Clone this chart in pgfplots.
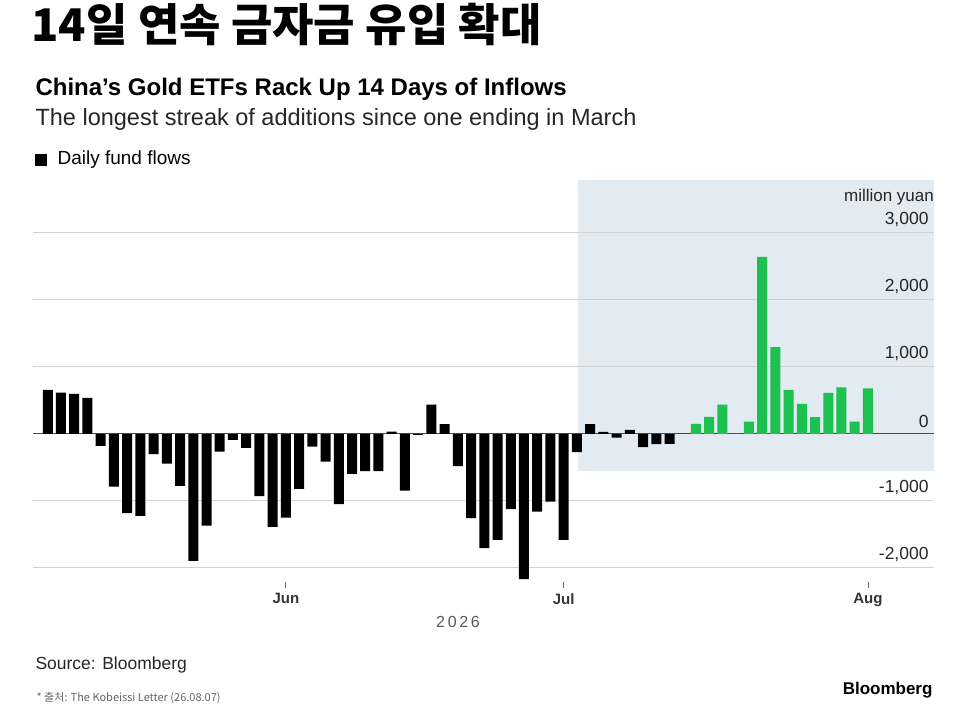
\documentclass[border=0pt]{standalone}
\usepackage{fontspec}
\setmainfont{Liberation Sans}
\newfontfamily\kr{Noto Sans CJK KR}
\usepackage{pgfplots}
\pgfplotsset{compat=1.18}
\definecolor{bgblue}{RGB}{226,234,242}
\definecolor{grn}{RGB}{29,193,79}
\definecolor{grd}{RGB}{210,210,210}
\begin{document}
\begin{tikzpicture}[x=1pt,y=1pt]
\path (0,0) rectangle (966,722);
\node[anchor=west,font=\kr\bfseries\fontsize{45}{48}\selectfont] at (28,700) {14일 연속 금자금 유입 확대};
\node[anchor=west,font=\bfseries\fontsize{24}{27}\selectfont] at (32,635) {China's Gold ETFs Rack Up 14 Days of Inflows};
\node[anchor=west,font=\fontsize{23.5}{27}\selectfont,text=black!85] at (32,605) {The longest streak of additions since one ending in March};
\fill (35,559) rectangle (47,571);
\node[anchor=west,font=\fontsize{19}{22}\selectfont] at (54,565) {Daily fund flows};
\node[anchor=west,font=\fontsize{17.5}{20}\selectfont,text=black!85] at (32,60) {Source: Bloomberg};
\node[anchor=west,font=\kr\fontsize{11}{13}\selectfont,text=black!60] at (33,27) {* 출처: The Kobeissi Letter (26.08.07)};
\node[anchor=east,font=\bfseries\fontsize{17}{19}\selectfont] at (936,34) {Bloomberg};
\node[font=\fontsize{16}{18}\selectfont,text=black!65] at (458,103) {2\,0\,2\,6};
\begin{axis}[at={(25,204)},anchor=south west,scale only axis,width=901pt,height=408pt,
  set layers,
  xmin=-0.11,xmax=68,ymin=-2300,ymax=3790,
  axis line style={draw=none},
  ybar,bar width=10pt,bar shift=0pt,
  xtick={19,40,63},xticklabels={Jun,Jul,Aug},
  xtick pos=bottom, tick align=inside,
  major tick length=6pt,
  x tick style={black!60,line width=0.8pt},
  xticklabel style={font=\bfseries\fontsize{15}{17}\selectfont,text=black!80,yshift=-2pt},
  ytick={-2000,-1000,0,1000,2000,3000},
  ytick pos=right, yticklabel pos=right, y tick style={draw=none},
  yticklabels={-2{,}000,-1{,}000,0,1{,}000,2{,}000,3{,}000},
  yticklabel style={anchor=south east,xshift=-2pt,yshift=3pt,font=\fontsize{17.5}{19}\selectfont,text=black!85},
  ymajorgrids, grid style={grd,line width=0.8pt},
  /pgf/number format/assume math mode=true,
  clip=false]
\begin{pgfonlayer}{axis background}
\fill[bgblue] (axis cs:41.08,-552) rectangle (axis cs:68,3790);
\end{pgfonlayer}
\draw[black!70,line width=0.8pt] (axis cs:-0.11,0) -- (axis cs:68,0);
\node[anchor=south east,font=\fontsize{17}{19}\selectfont,text=black!85,inner sep=0pt] at (axis cs:68,3420) {million yuan};
\addplot[fill=black,draw=none] coordinates {
(1,657)(2,617)(3,597)(4,537)(5,-179)(6,-786)(7,-1184)(8,-1224)(9,-303)(10,-443)
(11,-776)(12,-1896)(13,-1368)(14,-264)(15,-90)(16,-209)(17,-930)(18,-1388)(19,-1249)(20,-821)
(21,-189)(22,-413)(23,-1050)(24,-597)(25,-557)(26,-557)(27,35)(28,-846)(29,-15)(30,438)
(31,144)(32,-483)(33,-1259)(34,-1706)(35,-1582)(36,-1124)(37,-2169)(38,-1159)(39,-1010)(40,-1582)
(41,-274)(42,144)(43,30)(44,-55)(45,60)(46,-199)(47,-154)(48,-149)(49,0)};
\addplot[fill=grn,draw=none] coordinates {
(50,149)(51,254)(52,438)(53,0)(54,184)(55,2642)(56,1294)(57,657)(58,448)(59,249)
(60,612)(61,692)(62,184)(63,677)};
\end{axis}
\end{tikzpicture}
\end{document}
